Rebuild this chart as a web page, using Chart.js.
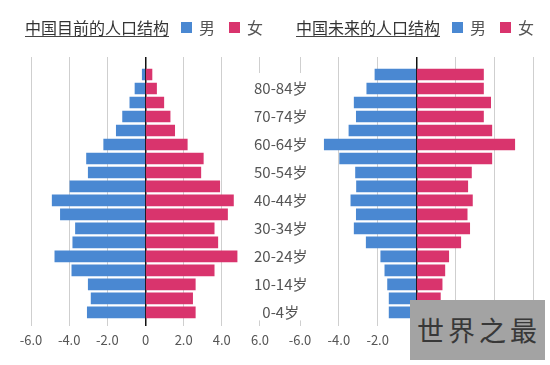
<!DOCTYPE html>
<html>
<head>
<meta charset="utf-8">
<script src="https://cdn.jsdelivr.net/npm/chart.js@4.4.0/dist/chart.umd.min.js"></script>
<style>
  body { margin: 0; width: 550px; height: 365px; overflow: hidden; background: #fff; position: relative;
         font-family: "Noto Sans CJK SC", "Noto Sans", sans-serif; }
  canvas { position: absolute; top: 0; }
  #left { left: 0; }
  #right { left: 240px; }
  .head { position: absolute; top: 19px; display: flex; align-items: flex-start; }
  .title { font-size: 16px; line-height: 16px; color: #333; padding-bottom: 1px; border-bottom: 1px solid #444; margin-right: 12px; }
  .key { font-size: 16px; line-height: 16px; color: #555; display: flex; align-items: flex-start; margin-right: 14px; }
  .key i { display: block; width: 11px; height: 11px; margin: 3px 7px 0 0; }
  .mark { position: absolute; left: 410px; top: 300px; width: 128px; height: 60px; padding-left: 7px; background: #a3a3a3;
          color: #383838; font-size: 27px; line-height: 60px; letter-spacing: 4px; white-space: nowrap; }
</style>
</head>
<body>
<canvas id="left" width="275" height="365"></canvas>
<canvas id="right" width="310" height="365"></canvas>

<div class="head" style="left:25px">
  <span class="title">中国目前的人口结构</span>
  <span class="key"><i style="background:#4a88d2"></i>男</span>
  <span class="key"><i style="background:#d9346d"></i>女</span>
</div>
<div class="head" style="left:296px">
  <span class="title">中国未来的人口结构</span>
  <span class="key"><i style="background:#4a88d2"></i>男</span>
  <span class="key"><i style="background:#d9346d"></i>女</span>
</div>
<div class="mark">世界之最</div>

<script>
// age groups, youngest first (only every second one is labelled)
const ageGroups = ['0-4岁', '5-9岁', '10-14岁', '15-19岁', '20-24岁', '25-29岁', '30-34岁', '35-39岁', '40-44岁',
                   '45-49岁', '50-54岁', '55-59岁', '60-64岁', '65-69岁', '70-74岁', '75-79岁', '80-84岁', '85岁以上'];

// share of population (%)
const nowMale     = [3.05, 2.85, 3.0, 3.86, 4.75, 3.81, 3.67, 4.46, 4.89, 3.96, 3.0, 3.09, 2.19, 1.53, 1.2, 0.82, 0.55, 0.17];
const nowFemale   = [2.61, 2.47, 2.61, 3.6, 4.8, 3.79, 3.6, 4.3, 4.61, 3.89, 2.9, 3.03, 2.19, 1.53, 1.29, 0.96, 0.58, 0.34];
const laterMale   = [1.41, 1.41, 1.49, 1.63, 1.84, 2.59, 3.21, 3.1, 3.38, 3.09, 3.14, 3.96, 4.75, 3.48, 3.1, 3.21, 2.56, 2.14];
const laterFemale = [1.2, 1.23, 1.32, 1.46, 1.66, 2.28, 2.74, 2.61, 2.88, 2.64, 2.83, 3.88, 5.06, 3.88, 3.45, 3.82, 3.45, 3.45];

const xTicks = [-6, -4, -2, 0, 2, 4, 6];

const blue = '#4a88d2';
const pink = '#d9346d';

Chart.defaults.font.family = '"Noto Sans CJK SC", "Noto Sans", sans-serif';
Chart.defaults.animation = false;

function pyramid(male, female) {
  return [
    { label: '男', data: male.map((v, i) => ({ x: -v, y: i })), backgroundColor: blue, barThickness: 11 },
    { label: '女', data: female.map((v, i) => ({ x: v, y: i })), backgroundColor: pink, barThickness: 11 }
  ];
}

function xScale() {
  return {
    min: -6, max: 6, stacked: true,
    border: { display: false },
    afterBuildTicks: s => { s.ticks = xTicks.map(v => ({ value: v })); },
    grid: {
      drawTicks: false, tickLength: 0,
      color: c => c.tick && c.tick.value === 0 ? '#111' : '#cfcfcf',
      lineWidth: c => c.tick && c.tick.value === 0 ? 1.5 : 1
    },
    ticks: {
      padding: 6, color: '#555', font: { size: 13 },
      callback: v => v === 0 ? '0' : v.toFixed(1)
    }
  };
}

// row axis: fixed range so rows sit where they do in the picture
function yScale(extra) {
  return Object.assign({
    type: 'linear', bounds: 'data', offset: false, stacked: true,
    afterDataLimits: s => { s.min = -1; s.max = 18.25; }
  }, extra);
}

// white panel behind the age labels, hides the outer grid lines there
const labelPanel = {
  id: 'labelPanel',
  beforeDatasetsDraw(chart) {
    const { ctx, chartArea } = chart;
    ctx.save();
    ctx.fillStyle = '#fff';
    ctx.fillRect(chartArea.left - 46, chartArea.top + 16, 48, chartArea.bottom - chartArea.top - 22);
    ctx.restore();
  }
};

new Chart(document.getElementById('left'), {
  type: 'bar',
  data: { datasets: pyramid(nowMale, nowFemale) },
  options: {
    indexAxis: 'y',
    responsive: false,
    layout: { padding: { left: 31, right: 11, top: 57, bottom: 11 } },
    plugins: { legend: { display: false }, tooltip: { enabled: false } },
    scales: {
      x: xScale(),
      y: yScale({ display: false })
    }
  }
});

new Chart(document.getElementById('right'), {
  type: 'bar',
  data: { datasets: pyramid(laterMale, laterFemale) },
  options: {
    indexAxis: 'y',
    responsive: false,
    layout: { padding: { left: 0, right: 17, top: 57, bottom: 11 } },
    plugins: { legend: { display: false }, tooltip: { enabled: false } },
    scales: {
      x: xScale(),
      y: yScale({
        position: 'left',
        grid: { display: false, drawTicks: false, tickLength: 0 }, border: { display: false },
        afterBuildTicks: s => { s.ticks = ageGroups.map((g, i) => ({ value: i })).filter(t => t.value % 2 === 0); },
        afterFit: s => { s.width = 60; },
        // mirrored so the labels are not clipped at the plot edge
        ticks: { z: 1, mirror: true, autoSkip: false, crossAlign: 'center', padding: -46, color: '#555', font: { size: 15 },
                 callback: v => ageGroups[v] }
      })
    }
  },
  plugins: [labelPanel]
});
</script>
</body>
</html>
